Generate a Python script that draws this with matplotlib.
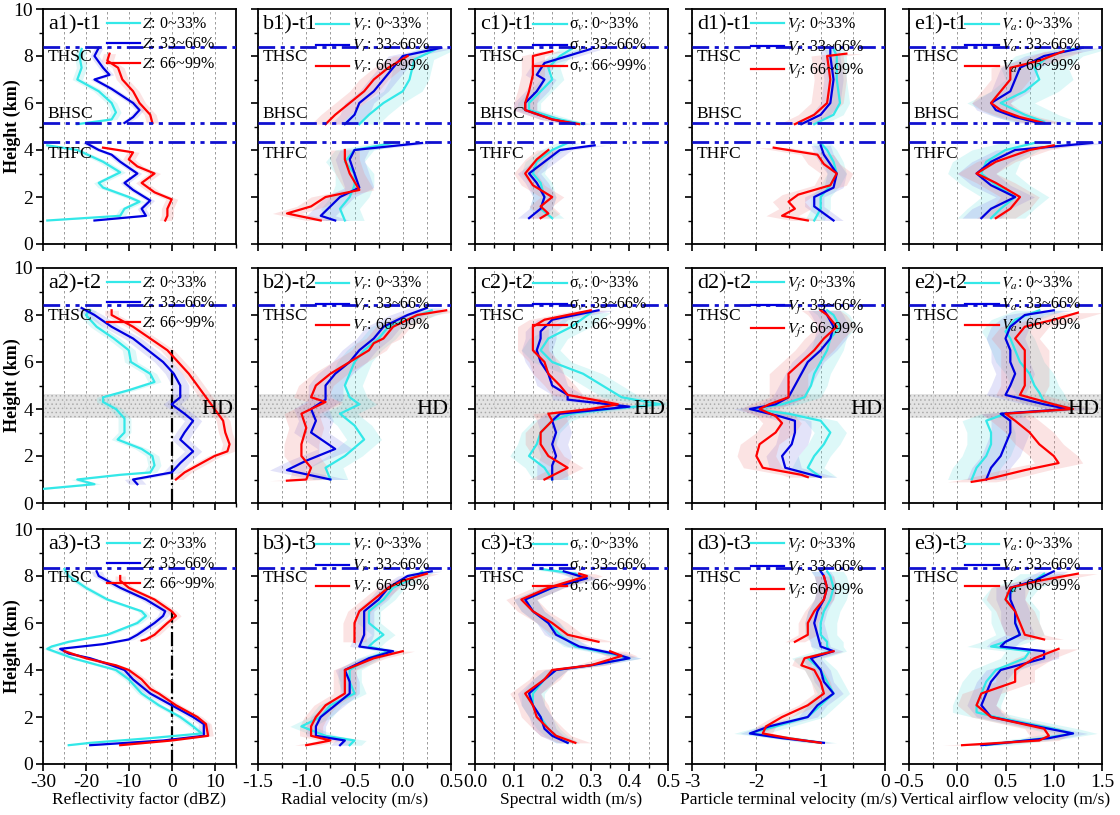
import numpy as np
import matplotlib
matplotlib.use("Agg")
from matplotlib import pyplot as plt
from matplotlib.ticker import MultipleLocator

plt.rcParams['font.family'] = ['Liberation Serif', 'DejaVu Serif']
plt.rcParams['mathtext.fontset'] = 'stix'
plt.rcParams['axes.unicode_minus'] = False
plt.rcParams['hatch.color'] = '#9a9a9a'
plt.rcParams['hatch.linewidth'] = 0.6

# profiles: (height km, value); None = gap
# ---- row 1 (t1)
a1_cyan = [(8.3, -21), (8.0, -21.5), (7.5, -21), (7.0, -22), (6.8, -20), (6.5, -17), (6.0, -14),
           (5.6, -13), (5.3, -14), (5.1, -22), None,
           (4.2, -29), (4.0, -22), (3.5, -16), (3.05, -12), (2.6, -17), (2.4, -16), (2.0, -10),
           (1.8, -7.5), (1.5, -11), (1.2, -12), (1.0, -29)]
a1_blue = [(8.35, -17), (8.0, -18), (7.5, -16), (7.2, -14.5), (7.0, -18), (6.6, -14), (6.0, -9),
           (5.7, -7.5), (5.4, -9), (5.15, -11), None,
           (4.3, -20), (4.0, -17), (3.8, -14), (3.5, -12), (3.0, -8), (2.6, -11), (2.3, -9),
           (1.85, -5), (1.5, -7), (1.2, -6), (1.0, -18)]
a1_red = [(8.1, -14.5), (7.8, -15), (7.5, -12.5), (7.0, -11.5), (6.5, -9), (6.0, -7.5), (5.5, -5),
          (5.15, -4.5), None,
          (4.1, -16), (3.9, -9), (3.6, -10), (3.3, -8), (3.0, -4), (2.6, -7), (2.2, -4),
          (1.9, 0), (1.5, -1), (1.2, -1), (1.0, -1.5)]
a1_spread = [1.2, 1.0, 1.4]

b1_cyan = [(8.3, 0.35), (7.85, 0.12), (7.0, 0.07), (6.5, 0.0), (6.0, -0.2), (5.5, -0.35), (5.1, -0.45), None,
           (4.3, -0.1), (4.0, -0.5), (3.5, -0.6), (3.0, -0.5), (2.5, -0.5), (2.0, -0.55), (1.5, -0.65), (1.0, -0.6)]
b1_blue = [(8.35, 0.4), (8.0, 0.0), (7.5, -0.1), (7.0, -0.2), (6.5, -0.3), (6.0, -0.45), (5.5, -0.5), (5.1, -0.6), None,
           (4.3, 0.2), (4.0, -0.5), (3.6, -0.55), (3.0, -0.5), (2.4, -0.45), (2.0, -0.65), (1.6, -0.75),
           (1.2, -0.85), (1.0, -0.7)]
b1_red = [(8.0, 0.05), (7.5, -0.15), (7.0, -0.3), (6.5, -0.4), (6.0, -0.55), (5.5, -0.7), (5.1, -0.8), None,
          (4.0, -0.6), (3.6, -0.6), (3.0, -0.55), (2.3, -0.45), (2.0, -0.8), (1.6, -0.95), (1.3, -1.2), (1.0, -0.85)]
b1_spread = [0.2, 0.15, 0.15]

c1_cyan = [(8.3, 0.25), (8.0, 0.22), (7.5, 0.19), (7.0, 0.2), (6.5, 0.17), (6.0, 0.14), (5.7, 0.14),
           (5.3, 0.22), (5.1, 0.28), None,
           (4.3, 0.24), (4.0, 0.2), (3.5, 0.16), (3.0, 0.15), (2.6, 0.17), (2.0, 0.18), (1.5, 0.17), (1.1, 0.2)]
c1_blue = [(8.3, 0.3), (8.0, 0.24), (7.7, 0.18), (7.2, 0.16), (7.0, 0.18), (6.5, 0.16), (6.0, 0.13),
           (5.7, 0.13), (5.3, 0.2), (5.1, 0.26), None,
           (4.2, 0.31), (4.0, 0.22), (3.5, 0.18), (3.0, 0.14), (2.6, 0.16), (2.0, 0.18), (1.5, 0.17), (1.1, 0.14)]
c1_red = [(8.2, 0.2), (8.0, 0.15), (7.7, 0.15), (7.2, 0.15), (6.5, 0.14), (6.0, 0.13), (5.7, 0.13),
          (5.3, 0.2), (5.1, 0.27), None,
          (4.0, 0.19), (3.6, 0.16), (3.0, 0.13), (2.5, 0.15), (2.0, 0.2), (1.6, 0.17), (1.3, 0.19), (1.1, 0.17)]
c1_spread = [0.03, 0.03, 0.03]

d1_cyan = [(8.3, -0.8), (8.0, -0.75), (7.0, -0.75), (6.0, -0.7), (5.5, -0.8), (5.1, -1.1), None,
           (4.3, -1.0), (4.0, -0.9), (3.5, -0.8), (3.0, -0.75), (2.5, -0.85), (2.0, -1.0), (1.5, -1.0), (1.0, -1.1)]
d1_blue = [(8.3, -0.85), (8.0, -0.85), (7.0, -0.8), (6.0, -0.85), (5.5, -1.0), (5.1, -1.3), None,
           (4.2, -1.0), (3.8, -0.95), (3.0, -0.75), (2.4, -0.8), (2.0, -1.1), (1.6, -1.1), (1.0, -0.8)]
d1_red = [(8.1, -0.6), (8.0, -0.9), (7.0, -0.85), (6.0, -0.9), (5.5, -1.1), (5.1, -1.4), None,
          (4.1, -1.73), (3.8, -1.05), (3.4, -0.95), (3.0, -0.75), (2.5, -0.85), (2.1, -1.35), (1.8, -1.5),
          (1.5, -1.4), (1.2, -1.6), (1.0, -1.2)]
d1_spread = [0.15, 0.15, 0.25]

e1_cyan = [(8.3, 1.2), (8.0, 0.95), (7.5, 0.8), (7.0, 0.85), (6.5, 0.7), (6.0, 0.45), (5.5, 0.7), (5.2, 0.9), None,
           (4.3, 0.8), (4.0, 0.5), (3.5, 0.3), (3.0, 0.25), (2.5, 0.4), (2.0, 0.6), (1.5, 0.45), (1.1, 0.35)]
e1_blue = [(8.35, 1.3), (8.0, 0.9), (7.5, 0.65), (7.0, 0.6), (6.5, 0.55), (6.0, 0.35), (5.7, 0.4), (5.4, 0.6),
           (5.15, 0.85), None,
           (4.3, 1.4), (4.0, 0.6), (3.5, 0.35), (3.0, 0.2), (2.5, 0.35), (2.0, 0.6), (1.5, 0.35), (1.1, 0.25)]
e1_red = [(8.2, 1.1), (7.8, 0.85), (7.5, 0.55), (7.0, 0.55), (6.5, 0.45), (6.0, 0.35), (5.7, 0.45), (5.4, 0.65),
          (5.15, 0.9), None,
          (4.2, 1.0), (4.0, 0.75), (3.5, 0.4), (3.0, 0.2), (2.6, 0.4), (2.0, 0.65), (1.5, 0.55), (1.1, 0.4)]
e1_spread = [0.35, 0.2, 0.2]

# ---- row 2 (t2)
a2_cyan = [(8.2, -19), (8.0, -20), (7.5, -17.5), (7.0, -13.5), (6.5, -10), (6.0, -9.5), (5.5, -5), (5.15, -4),
           (4.8, -10), (4.5, -16), (4.3, -16), (4.0, -13), (3.6, -11), (3.0, -11), (2.7, -12.6), (2.3, -7),
           (2.0, -4.5), (1.6, -4), (1.3, -5), (1.2, -12), (1.0, -22), (0.8, -18), (0.6, -30)]
a2_blue = [(8.3, -21), (8.0, -18), (7.5, -14), (7.0, -9), (6.5, -5.5), (6.0, -2), (5.5, 0.5), (5.0, 2),
           (4.5, 2), (4.2, 0), (3.8, 3), (3.5, 5), (3.0, 3), (2.7, 2), (2.2, 5), (1.7, 2), (1.3, 0),
           (1.0, -9), (0.8, -8)]
a2_red = [(8.2, -14), (8.0, -14), (7.5, -9), (7.0, -5), (6.5, -1), (6.0, 1.5), (5.5, 4), (5.0, 6), (4.5, 8),
          (4.0, 10), (3.5, 12), (3.0, 12.5), (2.5, 13.5), (2.2, 13), (2.0, 10), (1.7, 7), (1.3, 3), (1.0, 1)]
a2_spread = [1.5, 2.0, 1.6]

b2_cyan = [(8.2, 0.3), (7.5, -0.15), (7.0, -0.25), (6.5, -0.4), (6.0, -0.5), (5.5, -0.55), (5.0, -0.6),
           (4.5, -0.55), (4.2, -0.45), (3.8, -0.65), (3.3, -0.5), (2.7, -0.4), (2.0, -0.6), (1.5, -0.8),
           (1.0, -0.75)]
b2_blue = [(8.3, 0.25), (8.0, 0.05), (7.5, -0.2), (7.0, -0.3), (6.5, -0.45), (6.0, -0.55), (5.5, -0.7),
           (5.0, -0.8), (4.4, -0.8), (4.0, -0.95), (3.5, -0.9), (3.0, -0.95), (2.3, -0.7), (1.8, -1.0),
           (1.4, -1.2), (1.0, -0.75)]
b2_red = [(8.2, 0.45), (8.0, 0.15), (7.5, -0.1), (7.0, -0.2), (6.8, -0.3), (6.5, -0.35), (6.0, -0.55),
          (5.5, -0.75), (5.0, -0.9), (4.5, -0.95), (4.3, -0.8), (3.8, -1.05), (3.2, -1.0), (2.5, -1.05),
          (2.0, -1.05), (1.5, -0.95), (1.0, -1.0), (0.95, -1.2)]
b2_spread = [0.18, 0.18, 0.18]

c2_cyan = [(8.1, 0.3), (7.5, 0.25), (7.0, 0.19), (6.5, 0.17), (6.0, 0.2), (5.5, 0.28), (5.0, 0.33), (4.5, 0.38),
           (4.2, 0.48), (4.0, 0.35), (3.8, 0.25), (3.5, 0.2), (3.0, 0.17), (2.5, 0.16), (2.0, 0.14),
           (1.5, 0.18), (1.0, 0.2)]
c2_blue = [(8.2, 0.32), (7.8, 0.2), (7.3, 0.17), (7.0, 0.17), (6.5, 0.16), (6.0, 0.17), (5.5, 0.19), (5.0, 0.2),
           (4.6, 0.24), (4.4, 0.24), (4.1, 0.4), (3.8, 0.22), (3.5, 0.2), (3.0, 0.21), (2.5, 0.2),
           (2.0, 0.21), (1.6, 0.2), (1.0, 0.2)]
c2_red = [(8.2, 0.3), (7.8, 0.18), (7.5, 0.15), (7.0, 0.15), (6.5, 0.15), (6.0, 0.18), (5.5, 0.19), (5.0, 0.22),
          (4.6, 0.24), (4.2, 0.37), (4.0, 0.3), (3.8, 0.19), (3.5, 0.2), (3.0, 0.17), (2.5, 0.17),
          (2.0, 0.19), (1.5, 0.24), (1.0, 0.18)]
c2_spread = [0.05, 0.04, 0.04]

d2_cyan = [(8.2, -0.9), (8.0, -0.8), (7.5, -0.7), (7.0, -0.85), (6.5, -0.9), (6.0, -1.0), (5.5, -1.1),
           (5.0, -1.15), (4.5, -1.25), (4.2, -1.6), (4.0, -2.05), (3.8, -1.5), (3.5, -1.0), (3.0, -0.85),
           (2.5, -0.95), (2.0, -1.1), (1.5, -1.2), (1.1, -1.0)]
d2_blue = [(8.2, -0.95), (8.0, -0.9), (7.5, -0.8), (7.0, -0.85), (6.5, -1.0), (6.0, -1.2), (5.5, -1.3),
           (5.0, -1.4), (4.5, -1.5), (4.2, -1.7), (4.0, -2.1), (3.7, -1.65), (3.5, -1.4), (3.0, -1.4),
           (2.5, -1.45), (2.0, -1.6), (1.5, -1.55), (1.1, -1.0)]
d2_red = [(8.2, -1.0), (8.0, -0.9), (7.5, -0.75), (7.0, -0.95), (6.5, -1.1), (6.0, -1.3), (5.5, -1.5),
          (5.0, -1.5), (4.5, -1.5), (4.2, -1.8), (4.0, -1.95), (3.7, -1.7), (3.4, -1.6), (3.0, -1.7),
          (2.5, -1.95), (2.0, -2.0), (1.5, -1.9), (1.2, -1.3), (1.1, -1.2)]
d2_spread = [0.25, 0.25, 0.3]

e2_cyan = [(8.2, 0.85), (7.8, 0.6), (7.3, 0.5), (7.0, 0.55), (6.5, 0.6), (6.0, 0.65), (5.5, 0.75), (5.0, 0.8),
           (4.7, 0.85), (4.3, 0.9), (4.0, 1.2), (3.8, 0.5), (3.5, 0.3), (3.0, 0.35), (2.5, 0.35),
           (2.0, 0.3), (1.5, 0.2), (1.0, 0.15)]
e2_blue = [(8.2, 1.0), (8.0, 0.7), (7.5, 0.55), (7.0, 0.5), (6.5, 0.55), (6.0, 0.55), (5.5, 0.6), (5.0, 0.55),
           (4.6, 0.5), (4.2, 0.9), (4.0, 1.15), (3.8, 0.45), (3.5, 0.55), (3.0, 0.55), (2.5, 0.5),
           (2.0, 0.45), (1.5, 0.35), (1.0, 0.3)]
e2_red = [(8.1, 1.25), (7.8, 1.0), (7.5, 0.7), (7.0, 0.6), (6.5, 0.7), (6.0, 0.7), (5.5, 0.7), (5.0, 0.7),
          (4.6, 0.65), (4.2, 1.0), (4.0, 1.2), (3.8, 0.5), (3.5, 0.6), (3.0, 0.75), (2.5, 0.85),
          (2.0, 1.0), (1.7, 1.05), (1.4, 0.7), (1.0, 0.3), (0.9, 0.15)]
e2_spread = [0.25, 0.2, 0.25]

# ---- row 3 (t3)
a3_cyan = [(8.3, -25), (8.0, -24), (7.5, -20), (7.0, -15), (6.5, -7), (6.3, -6), (6.0, -8), (5.5, -15),
           (5.2, -24), (5.0, -28), (4.9, -29), (4.7, -26), (4.5, -23), (4.2, -17), (4.0, -13), (3.6, -10),
           (3.0, -7), (2.5, -3), (2.0, 2), (1.6, 5), (1.3, 7), (1.1, -5), (0.9, -19), (0.8, -24)]
a3_blue = [(8.2, -17.5), (8.0, -17), (7.5, -12), (7.0, -6), (6.5, -1.5), (6.3, -2), (6.0, -4), (5.5, -8),
           (5.3, -10), (5.1, -16), (4.9, -26), (4.7, -24), (4.5, -19), (4.2, -14), (4.0, -11), (3.6, -9),
           (3.0, -5), (2.5, 0), (2.0, 5), (1.7, 7.5), (1.2, 7.5), (1.0, -2), (0.8, -19)]
a3_red = [(8.0, -12), (7.8, -12), (7.5, -10), (7.0, -4), (6.5, 0), (6.3, 1), (6.0, -1), (5.5, -4), (5.3, -6),
          (5.25, -7), None,
          (4.8, -25), (4.5, -20), (4.2, -13), (4.0, -10), (3.6, -7), (3.2, -5), (3.0, -3), (2.5, 1),
          (2.0, 6), (1.7, 8), (1.2, 8.5), (1.0, 0), (0.8, -12)]
a3_spread = [1.0, 1.3, 1.2]

b3_cyan = [(8.2, 0.2), (8.0, 0.15), (7.5, -0.1), (7.0, -0.2), (6.5, -0.35), (6.0, -0.35), (5.5, -0.2),
           (5.2, -0.3), (5.0, -0.35), (4.8, -0.15), (4.5, -0.35), (4.0, -0.55), (3.5, -0.55), (3.0, -0.5),
           (2.5, -0.75), (2.0, -0.85), (1.6, -1.05), (1.2, -0.8), (1.0, -0.5), (0.8, -0.55)]
b3_blue = [(8.2, 0.3), (8.0, 0.05), (7.5, -0.15), (7.0, -0.25), (6.5, -0.4), (6.0, -0.4), (5.5, -0.4),
           (5.0, -0.45), (4.8, -0.1), (4.5, -0.35), (4.0, -0.6), (3.5, -0.55), (3.0, -0.55), (2.5, -0.7),
           (2.0, -0.85), (1.6, -0.9), (1.2, -0.9), (1.0, -0.6), (0.8, -0.65)]
b3_red = [(8.1, 0.25), (7.8, 0.0), (7.5, -0.15), (7.0, -0.3), (6.5, -0.45), (6.0, -0.5), (5.5, -0.5),
          (5.2, -0.5), None,
          (4.8, 0.0), (4.5, -0.3), (4.0, -0.6), (3.5, -0.6), (3.0, -0.6), (2.5, -0.8), (2.0, -0.9),
          (1.6, -0.95), (1.2, -0.95), (1.0, -0.75), (0.8, -1.0)]
b3_spread = [0.12, 0.1, 0.12]

c3_cyan = [(8.3, 0.17), (8.1, 0.26), (7.9, 0.28), (7.5, 0.2), (7.0, 0.13), (6.5, 0.15), (6.0, 0.19),
           (5.5, 0.22), (5.0, 0.26), (4.7, 0.35), (4.5, 0.4), (4.2, 0.3), (4.0, 0.21), (3.6, 0.18),
           (3.0, 0.15), (2.5, 0.15), (2.0, 0.17), (1.5, 0.19), (1.2, 0.21), (0.9, 0.24)]
c3_blue = [(8.2, 0.23), (7.9, 0.29), (7.5, 0.2), (7.0, 0.13), (6.5, 0.15), (6.0, 0.19), (5.5, 0.21),
           (5.0, 0.27), (4.7, 0.36), (4.5, 0.4), (4.2, 0.3), (4.0, 0.21), (3.6, 0.18), (3.0, 0.14),
           (2.5, 0.15), (2.0, 0.17), (1.5, 0.18), (1.2, 0.2), (0.9, 0.24)]
c3_red = [(8.1, 0.27), (8.0, 0.29), (7.5, 0.19), (7.0, 0.12), (6.5, 0.15), (6.0, 0.2), (5.5, 0.24),
          (5.2, 0.32), None,
          (4.8, 0.35), (4.6, 0.38), (4.2, 0.3), (4.0, 0.2), (3.6, 0.18), (3.0, 0.13), (2.5, 0.15),
          (2.0, 0.16), (1.5, 0.19), (1.2, 0.21), (0.9, 0.26)]
c3_spread = [0.03, 0.03, 0.04]

d3_cyan = [(8.2, -0.9), (8.0, -0.85), (7.5, -0.8), (7.0, -0.85), (6.5, -0.95), (6.0, -1.0), (5.5, -1.0),
           (5.2, -0.9), (5.0, -0.9), (4.8, -0.85), (4.5, -1.2), (4.0, -1.0), (3.5, -0.9), (3.0, -0.8),
           (2.5, -1.0), (2.0, -1.2), (1.6, -1.7), (1.3, -2.1), (1.1, -1.5), (0.9, -1.0)]
d3_blue = [(8.2, -1.0), (8.0, -0.95), (7.5, -0.9), (7.0, -0.95), (6.5, -1.05), (6.0, -1.1), (5.5, -1.05),
           (5.0, -1.0), (4.8, -0.8), (4.5, -1.15), (4.0, -1.0), (3.5, -0.95), (3.0, -0.8), (2.5, -1.05),
           (2.0, -1.2), (1.6, -1.8), (1.3, -2.1), (1.1, -1.6), (0.9, -0.95)]
d3_red = [(8.0, -0.95), (7.5, -0.9), (7.0, -0.95), (6.5, -1.1), (6.0, -1.2), (5.5, -1.2), (5.2, -1.4), None,
          (4.8, -0.8), (4.5, -1.25), (4.2, -1.3), (4.0, -1.1), (3.5, -1.0), (3.0, -0.95), (2.5, -1.2),
          (2.0, -1.6), (1.6, -1.85), (1.3, -1.9), (1.1, -1.5), (0.9, -1.0)]
d3_spread = [0.25, 0.15, 0.15]

e3_cyan = [(8.1, 0.9), (7.8, 0.8), (7.5, 0.6), (7.0, 0.5), (6.5, 0.6), (6.0, 0.6), (5.5, 0.65), (5.2, 0.5),
           (5.0, 0.35), (4.8, 0.75), (4.5, 0.7), (4.0, 0.4), (3.5, 0.3), (3.0, 0.25), (2.5, 0.2),
           (2.2, 0.2), (2.0, 0.4), (1.5, 1.0), (1.3, 1.2), (1.1, 0.9), (0.8, 0.3)]
e3_blue = [(8.2, 1.0), (7.8, 0.8), (7.5, 0.55), (7.0, 0.55), (6.5, 0.6), (6.0, 0.6), (5.5, 0.65), (5.2, 0.5),
           (5.0, 0.45), (4.8, 0.9), (4.5, 0.9), (4.0, 0.45), (3.5, 0.35), (3.0, 0.3), (2.5, 0.25),
           (2.0, 0.35), (1.5, 0.95), (1.3, 1.2), (1.1, 0.95), (0.8, 0.25)]
e3_red = [(8.1, 1.25), (7.8, 0.85), (7.5, 0.55), (7.0, 0.5), (6.5, 0.6), (6.0, 0.65), (5.5, 0.7), (5.3, 0.9), None,
          (4.9, 1.05), (4.5, 0.8), (4.0, 0.6), (3.5, 0.6), (3.0, 0.25), (2.5, 0.2), (2.0, 0.35), (1.5, 0.9),
          (1.2, 0.95), (1.0, 0.85), (0.8, 0.05)]
e3_spread = [0.25, 0.15, 0.2]

# axis setup per column
col_names = ['a', 'b', 'c', 'd', 'e']
xlims = [(-30, 15), (-1.5, 0.5), (0.0, 0.5), (-3, 0), (-0.5, 1.5)]
xmajor = [10, 0.5, 0.1, 1, 0.5]
xfmt = ['%d', '%.1f', '%.1f', '%d', '%.1f']
xlabels = ['Reflectivity factor (dBZ)', 'Radial velocity (m/s)', 'Spectral width (m/s)',
           'Particle terminal velocity (m/s)', 'Vertical airflow velocity (m/s)']
var_names = ['$Z$', '$V_r$', r'σ$_v$', '$V_f$', '$V_a$']
pct_labels = ['0~33%', '33~66%', '66~99%']
times = ['t1', 't2', 't3']

row1_lines = [8.4, 5.15, 4.32]
row1_marks = [('THSC', 7.95), ('BHSC', 5.55), ('THFC', 3.85)]
row2_lines = [8.42]
row2_marks = [('THSC', 7.95)]
row3_lines = [8.36]
row3_marks = [('THSC', 7.9)]
hd_band = (3.6, 4.65)

data = {
    'a1': (a1_cyan, a1_blue, a1_red, a1_spread), 'b1': (b1_cyan, b1_blue, b1_red, b1_spread),
    'c1': (c1_cyan, c1_blue, c1_red, c1_spread), 'd1': (d1_cyan, d1_blue, d1_red, d1_spread),
    'e1': (e1_cyan, e1_blue, e1_red, e1_spread),
    'a2': (a2_cyan, a2_blue, a2_red, a2_spread), 'b2': (b2_cyan, b2_blue, b2_red, b2_spread),
    'c2': (c2_cyan, c2_blue, c2_red, c2_spread), 'd2': (d2_cyan, d2_blue, d2_red, d2_spread),
    'e2': (e2_cyan, e2_blue, e2_red, e2_spread),
    'a3': (a3_cyan, a3_blue, a3_red, a3_spread), 'b3': (b3_cyan, b3_blue, b3_red, b3_spread),
    'c3': (c3_cyan, c3_blue, c3_red, c3_spread), 'd3': (d3_cyan, d3_blue, d3_red, d3_spread),
    'e3': (e3_cyan, e3_blue, e3_red, e3_spread),
}

line_colors = ['#33e8e8', '#0000e0', '#ff0000']
band_colors = ['#66e0e0', '#8080e6', '#f08080']
hline_color = '#1010d0'


def segments(pts):
    seg = []
    for p in pts:
        if p is None:
            if seg:
                yield seg
            seg = []
        else:
            seg.append(p)
    if seg:
        yield seg


W, H = 1120, 815
fig = plt.figure(figsize=(W / 100, H / 100), dpi=100)

lefts = [43, 258, 475, 692, 909]
width = 193
tops = [9, 268, 529]
height = 235

for r in range(3):
    for c in range(5):
        key = col_names[c] + str(r + 1)
        ax = fig.add_axes([lefts[c] / W, 1 - (tops[r] + height) / H, width / W, height / H])
        cyan, blue, red, spread = data[key]

        ax.set_xlim(*xlims[c])
        ax.set_ylim(0, 10)
        ax.xaxis.set_major_locator(MultipleLocator(xmajor[c]))
        ax.xaxis.set_minor_locator(MultipleLocator(xmajor[c] / 2))
        ax.yaxis.set_major_locator(MultipleLocator(2))
        ax.yaxis.set_minor_locator(MultipleLocator(1))
        # vertical dashed grid at minor ticks
        ax.grid(True, axis='x', which='both', ls=(0, (3, 3)), color='#8c8c8c', lw=0.6)
        ax.set_axisbelow(True)

        if r == 1:
            ax.axhspan(hd_band[0], hd_band[1], facecolor='#dcdcdc', edgecolor='#a0a0a0',
                       hatch='....', lw=0, alpha=0.8, zorder=1)
            ax.text(0.985, 4.0, 'HD', transform=ax.get_yaxis_transform(), ha='right', va='center',
                    fontsize=16, zorder=6)

        handles = []
        for k, pts in enumerate([cyan, blue, red]):
            for seg in segments(pts):
                h = np.array([p[0] for p in seg])
                v = np.array([p[1] for p in seg])
                ax.fill_betweenx(h, v - spread[k], v + spread[k], color=band_colors[k],
                                 alpha=0.22, lw=0, zorder=2)
            for seg in segments(pts):
                h = [p[0] for p in seg]
                v = [p[1] for p in seg]
                ln, = ax.plot(v, h, color=line_colors[k], lw=1.6, zorder=4 + k * 0.1)
            ln.set_label(var_names[c] + ': ' + pct_labels[k])
            handles.append(ln)

        if c == 0 and r > 0:
            ax.axvline(0, ymin=0, ymax=0.65, color='k', ls='-.', lw=1.6, zorder=3)

        lines = [row1_lines, row2_lines, row3_lines][r]
        marks = [row1_marks, row2_marks, row3_marks][r]
        for yl in lines:
            ax.axhline(yl, color=hline_color, ls=(0, (6, 2, 1.5, 2, 1.5, 2)), lw=2.0, zorder=5)
        for txt, yl in marks:
            ax.text(0.025, yl, txt, transform=ax.get_yaxis_transform(), ha='left', va='center',
                    fontsize=12.5, zorder=6)

        ax.text(0.025, 0.975, key + ')-' + times[r], transform=ax.transAxes, ha='left', va='top',
                fontsize=16, zorder=7)
        leg = ax.legend(handles=handles, loc='upper right', bbox_to_anchor=(0.93, 1.0),
                        frameon=False, fontsize=11.5, handlelength=2.1, handletextpad=0.15,
                        labelspacing=0.25, borderaxespad=0.25, borderpad=0.2)
        leg.set_zorder(8)

        ax.tick_params(axis='both', which='major', direction='out', length=5, width=1.2,
                       labelsize=14, pad=2)
        ax.tick_params(axis='both', which='minor', direction='out', length=3, width=1.0)
        for sp in ax.spines.values():
            sp.set_linewidth(1.3)

        if c == 0:
            ax.set_ylabel('Height (km)', fontsize=13, fontweight='bold')
            ax.yaxis.set_label_coords(-0.115, 0.5)
        else:
            ax.set_yticklabels([])
        if r == 2:
            ticks = np.arange(xlims[c][0], xlims[c][1] + xmajor[c] / 2, xmajor[c])
            ax.set_xticks(ticks)
            ax.set_xticklabels([xfmt[c] % t for t in ticks])
            ax.set_xlabel(xlabels[c], fontsize=12.5, labelpad=1)
        else:
            ax.set_xticklabels([])

fig.savefig('out.png', dpi=100)
